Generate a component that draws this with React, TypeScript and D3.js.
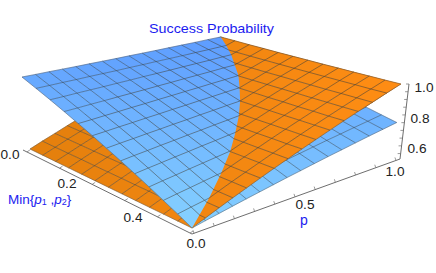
import React from "react";
import * as d3 from "d3";

const W = 436, H = 273;
const title = "Success Probability";
const minTicks = [0, 0.2, 0.4];
const minMinor = [0, 0.1, 0.2, 0.3, 0.4, 0.5];
const pTicks = [0, 0.5, 1];
const pMinor = [0, 0.1, 0.2, 0.3, 0.4, 0.5, 0.6, 0.7, 0.8, 0.9, 1];
const zTicks = [0.6, 0.8, 1];
const zMinor = [0.55, 0.6, 0.65, 0.7, 0.75, 0.8, 0.85, 0.9, 0.95, 1];

// rows: Min{p1,p2} from 0 to 0.5; columns: p from 0 to 1
const blueSurface = [
[1.000,.992,.985,.977,.969,.962,.954,.946,.939,.931,.923,.916,.908,.900,.893,.885],
[.958,.952,.947,.941,.936,.930,.924,.919,.913,.908,.902,.896,.891,.885,.880,.874],
[.917,.913,.910,.906,.902,.899,.895,.892,.888,.884,.881,.877,.873,.870,.866,.863],
[.875,.873,.872,.870,.869,.867,.865,.864,.862,.861,.859,.857,.856,.854,.853,.851],
[.833,.833,.834,.834,.835,.835,.836,.836,.837,.837,.838,.838,.839,.839,.840,.840],
[.792,.794,.797,.799,.802,.804,.807,.809,.812,.814,.817,.819,.822,.824,.827,.829],
[.750,.755,.759,.764,.768,.773,.777,.782,.786,.791,.795,.800,.804,.809,.813,.818],
[.708,.715,.721,.728,.734,.741,.747,.754,.760,.767,.773,.780,.786,.793,.799,.806],
[.667,.676,.684,.693,.701,.710,.718,.727,.735,.744,.752,.761,.769,.778,.786,.795],
[.625,.636,.646,.657,.667,.678,.689,.699,.710,.720,.731,.742,.752,.763,.773,.784],
[.583,.596,.608,.621,.634,.646,.659,.671,.684,.697,.709,.722,.735,.747,.760,.773],
[.542,.557,.571,.586,.600,.615,.630,.644,.659,.673,.688,.703,.717,.732,.746,.761],
[.500,.517,.533,.550,.567,.583,.600,.617,.633,.650,.667,.683,.700,.717,.733,.750],
];
const orangeSurface = [
[.500,.526,.551,.577,.603,.628,.654,.680,.705,.731,.757,.782,.808,.834,.859,.885],
[.500,.526,.553,.579,.605,.632,.658,.684,.711,.737,.763,.790,.816,.842,.869,.895],
[.500,.527,.554,.581,.608,.635,.662,.689,.715,.742,.769,.796,.823,.850,.877,.904],
[.500,.528,.555,.583,.610,.638,.666,.693,.721,.748,.776,.804,.831,.859,.886,.914],
[.500,.528,.556,.585,.613,.641,.669,.697,.726,.754,.782,.810,.838,.867,.895,.923],
[.500,.529,.558,.587,.615,.644,.673,.702,.731,.760,.789,.818,.846,.875,.904,.933],
[.500,.530,.559,.589,.618,.648,.677,.707,.736,.766,.795,.825,.854,.884,.913,.943],
[.500,.530,.560,.590,.621,.651,.681,.711,.741,.771,.801,.831,.862,.892,.922,.952],
[.500,.531,.562,.592,.623,.654,.685,.716,.746,.777,.808,.839,.870,.900,.931,.962],
[.500,.531,.563,.594,.626,.657,.688,.720,.751,.783,.814,.845,.877,.908,.940,.971],
[.500,.532,.564,.596,.628,.660,.692,.724,.757,.789,.821,.853,.885,.917,.949,.981],
[.500,.533,.565,.598,.631,.663,.696,.729,.761,.794,.827,.859,.892,.925,.957,.990],
[.500,.533,.567,.600,.633,.667,.700,.733,.767,.800,.833,.867,.900,.933,.967,1.000],
];

type P = [number, number];
// screen positions of the plot box corners (low plane, high plane)
const left0: P = [30, 149], front0: P = [192, 228], right0: P = [392.5, 161], back0: P = [220, 87];
const left1: P = [22, 77], front1: P = [192, 143], right1: P = [401, 84], back1: P = [221, 22];

const uOf = d3.scaleLinear().domain([0, 0.5]).range([0, 1]);
const vOf = d3.scaleLinear().domain([0, 1]).range([0, 1]);
const wOf = d3.scaleLinear().domain([0.5, 1]).range([0, 1]);

// unit square -> quad homography (perspective of the box)
function homography(p00: P, p10: P, p01: P, p11: P) {
  const dx1 = p10[0] - p11[0], dx2 = p01[0] - p11[0], sx = p00[0] - p10[0] + p11[0] - p01[0];
  const dy1 = p10[1] - p11[1], dy2 = p01[1] - p11[1], sy = p00[1] - p10[1] + p11[1] - p01[1];
  const det = dx1 * dy2 - dx2 * dy1;
  const g = (sx * dy2 - dx2 * sy) / det, h = (dx1 * sy - sx * dy1) / det;
  const a = p10[0] - p00[0] + g * p10[0], b = p01[0] - p00[0] + h * p01[0], c = p00[0];
  const d = p10[1] - p00[1] + g * p10[1], e = p01[1] - p00[1] + h * p01[1], f = p00[1];
  return (u: number, v: number): P => {
    const w = g * u + h * v + 1;
    return [(a * u + b * v + c) / w, (d * u + e * v + f) / w];
  };
}
const lowPlane = homography(left0, front0, back0, right0);
const highPlane = homography(left1, front1, back1, right1);

function project(m: number, p: number, z: number): P {
  const u = uOf(m), v = vOf(p), w = wOf(z);
  const lo = lowPlane(u, v), hi = highPlane(u, v);
  return [lo[0] + (hi[0] - lo[0]) * w, lo[1] + (hi[1] - lo[1]) * w];
}

const nRows = blueSurface.length - 1;
const nCols = blueSurface[0].length - 1;
const mAt = (i: number) => (i / nRows) * 0.5;
const pAt = (j: number) => j / nCols;
const line = d3.line<P>().x((d) => d[0]).y((d) => d[1]);
const closed = (pts: P[]) => line(pts) + "Z";

const blueColor = d3.scaleLinear<string>().domain([40, 228]).range(["#5e9dff", "#86d2ff"]).interpolate(d3.interpolateRgb);
const orangeColor = d3.scaleLinear<string>().domain([0, 1]).range(["#e37f0c", "#ff8d14"]).interpolate(d3.interpolateRgb);

function Surface({ table, kind }: { table: number[][]; kind: "blue" | "orange" }) {
  const pt = (i: number, j: number) => project(mAt(i), pAt(j), table[i][j]);
  const rows = d3.range(nRows + 1);
  const cols = d3.range(nCols + 1);
  const outline = [...cols.map((j) => pt(0, j)), ...rows.map((i) => pt(i, nCols)), ...cols.map((j) => pt(nRows, nCols - j)), ...rows.map((i) => pt(nRows - i, 0))];
  return (
    <g>
      {d3.range(nRows).map((i) =>
        d3.range(nCols).map((j) => {
          const q = [pt(i, j), pt(i + 1, j), pt(i + 1, j + 1), pt(i, j + 1)];
          const cy = d3.mean(q, (d) => d[1]) as number;
          const fill = kind === "blue" ? blueColor(cy) : orangeColor(((i + 0.5) / nRows + (j + 0.5) / nCols) / 2);
          return <path key={i + "-" + j} d={closed(q)} fill={fill} stroke={fill} strokeWidth={0.4} />;
        })
      )}
      {rows.slice(1, nRows).map((i) => (
        <path key={"r" + i} d={line(cols.map((j) => pt(i, j))) as string} fill="none" stroke="#2f3a44" strokeOpacity={0.6} strokeWidth={0.8} />
      ))}
      {cols.slice(1, nCols).map((j) => (
        <path key={"c" + j} d={line(rows.map((i) => pt(i, j))) as string} fill="none" stroke="#2f3a44" strokeOpacity={0.6} strokeWidth={0.8} />
      ))}
      <path d={closed(outline)} fill="none" stroke="#444" strokeOpacity={0.6} strokeWidth={0.7} />
    </g>
  );
}

// region of the mesh where orange lies above blue
const crossing: P[] = d3.range(nRows + 1).map((i) => {
  let jStar = 0;
  for (let j = 0; j < nCols; j++) {
    const d0 = orangeSurface[i][j] - blueSurface[i][j];
    const d1 = orangeSurface[i][j + 1] - blueSurface[i][j + 1];
    if (d0 <= 0 && d1 >= 0) {
      const t = d1 === d0 ? 0 : -d0 / (d1 - d0);
      jStar = j + t;
    }
  }
  const j0 = Math.min(Math.floor(jStar), nCols - 1), t = jStar - j0;
  const z = blueSurface[i][j0] * (1 - t) + blueSurface[i][j0 + 1] * t;
  return project(mAt(i), jStar / nCols, z);
});

const axisColor = "#6e6e6e";
const fontFamily = '"Liberation Sans", Arial, sans-serif';
const blueText = "#1c1cf0";

// axis lines on the floor and the right edge
const axisA: P = [23, 150], axisB: P = [192, 234], axisC: P = [400, 159], axisD: P = [409, 84];
const along = (a: P, b: P, t: number): P => [a[0] + (b[0] - a[0]) * t, a[1] + (b[1] - a[1]) * t];
const minT = d3.scaleLinear().domain([-0.012, 0.506]).range([0, 1]);
const pT = d3.scaleLinear().domain([-0.01, 1.02]).range([0, 1]);
const zT = d3.scaleLinear().domain([0.515, 1]).range([0, 1]);

function Label({ x, y, children, width }: { x: number; y: number; children: React.ReactNode; width?: number }) {
  return (
    <text x={x} y={y} textAnchor="middle" dominantBaseline="central" fontFamily={fontFamily} fontSize={12} fill="#222" textLength={width} lengthAdjust="spacingAndGlyphs">
      {children}
    </text>
  );
}

export default function App() {
  return (
    <svg width={W} height={H} viewBox={`0 0 ${W} ${H}`} style={{ position: "absolute", left: 0, top: 0, background: "#fff" }}>
      <defs>
        <clipPath id="orangeTop">
          <path d={closed([...crossing, project(0.5, 1, orangeSurface[nRows][nCols])])} />
        </clipPath>
      </defs>
      <path d={line([axisA, axisB, axisC, axisD]) as string} fill="none" stroke={axisColor} strokeWidth={1} />
      {minMinor.map((m) => {
        const a = along(axisA, axisB, minT(m));
        return <path key={"mt" + m} d={line([a, [a[0] + 3, a[1] - 2]]) as string} stroke={axisColor} strokeWidth={0.7} />;
      })}
      {pMinor.map((p) => {
        const a = along(axisB, axisC, pT(p));
        return <path key={"pt" + p} d={line([a, [a[0] - 1, a[1] - 3]]) as string} stroke={axisColor} strokeWidth={0.7} />;
      })}
      {zMinor.map((z) => {
        const a = along(axisC, axisD, zT(z));
        return <path key={"zt" + z} d={line([a, [a[0] - 3, a[1]]]) as string} stroke={axisColor} strokeWidth={0.7} />;
      })}
      <Surface table={orangeSurface} kind="orange" />
      <Surface table={blueSurface} kind="blue" />
      <g clipPath="url(#orangeTop)">
        <Surface table={orangeSurface} kind="orange" />
      </g>
      <text x={211.5} y={28} textAnchor="middle" dominantBaseline="central" fontFamily={fontFamily} fontSize={13} fill={blueText} textLength={125} lengthAdjust="spacingAndGlyphs">{title}</text>
      {minTicks.map((m, i) => (
        <Label key={"ml" + m} x={[10, 67, 133][i]} y={[155, 184, 218][i]} width={19}>{d3.format(".1f")(m)}</Label>
      ))}
      {pTicks.map((p, i) => (
        <Label key={"pl" + p} x={[196, 305, 395][i]} y={[244, 205, 172][i]} width={19}>{d3.format(".1f")(p)}</Label>
      ))}
      {zTicks.map((z, i) => (
        <Label key={"zl" + z} x={[417, 420, 424][i]} y={[149, 119, 88][i]} width={19}>{d3.format(".1f")(z)}</Label>
      ))}
      <text x={304} y={220} textAnchor="middle" dominantBaseline="central" fontFamily={fontFamily} fontSize={14} fill={blueText}>p</text>
      <text x={8} y={199} dominantBaseline="central" fontFamily={fontFamily} fontSize={13.5} fill={blueText}>
        Min{"{"}<tspan fontStyle="italic">p</tspan><tspan fontSize={9} dy={3}>1</tspan><tspan dy={-3}> ,</tspan><tspan fontStyle="italic">p</tspan><tspan fontSize={9} dy={3}>2</tspan><tspan dy={-3}>{"}"}</tspan>
      </text>
    </svg>
  );
}
